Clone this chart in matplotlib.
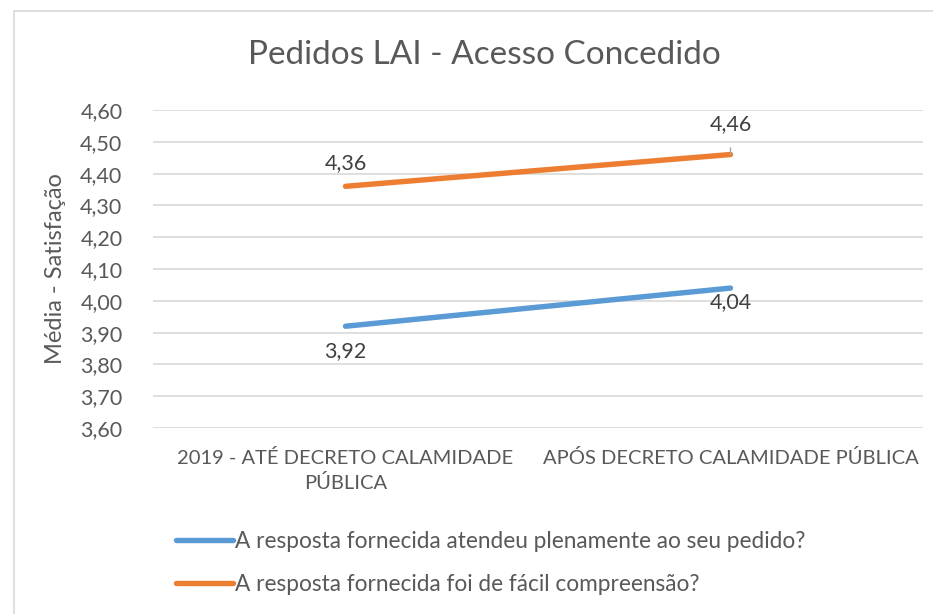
import numpy as np
import matplotlib.pyplot as plt
from matplotlib.patches import Rectangle
from matplotlib.ticker import FuncFormatter

plt.rcParams['font.family'] = ['Lato', 'DejaVu Sans']

categorias = ['2019 - ATÉ DECRETO CALAMIDADE\nPÚBLICA', 'APÓS DECRETO CALAMIDADE PÚBLICA']
atendeu = [3.92, 4.04]
compreensao = [4.36, 4.46]
serie_atendeu = 'A resposta fornecida atendeu plenamente ao seu pedido?'
serie_compreensao = 'A resposta fornecida foi de fácil compreensão?'
yticks = np.arange(3.60, 4.61, 0.10)

cinza = '#595959'
azul = '#5b9bd5'
laranja = '#ed7d31'

fig = plt.figure(figsize=(9.33, 6.14), dpi=100)
ax = fig.add_axes([153/933, 1-428/614, 770/933, 318/614])

x = np.arange(len(categorias))
l1, = ax.plot(x, atendeu, color=azul, lw=3.9, solid_capstyle='round', label=serie_atendeu)
l2, = ax.plot(x, compreensao, color=laranja, lw=3.9, solid_capstyle='round', label=serie_compreensao)

# rotulos de dados
fs = 15.5
ax.annotate('3,92', (x[0], atendeu[0]), xytext=(0, -18), textcoords='offset points',
            ha='center', va='center', fontsize=fs, color='#404040')
ax.annotate('4,04', (x[1], atendeu[1]), xytext=(0, -10), textcoords='offset points',
            ha='center', va='center', fontsize=fs, color='#404040')
ax.annotate('4,36', (x[0], compreensao[0]), xytext=(0, 17), textcoords='offset points',
            ha='center', va='center', fontsize=fs, color='#404040')
ax.annotate('4,46', (x[1], compreensao[1]), xytext=(0, 22), textcoords='offset points',
            ha='center', va='center', fontsize=fs, color='#404040',
            arrowprops=dict(arrowstyle='-', color='#a6a6a6', lw=1, shrinkA=8, shrinkB=0))

ax.set_xlim(-0.5, 1.5)
ax.set_ylim(3.60, 4.60)
ax.set_yticks(yticks)
ax.yaxis.set_major_formatter(FuncFormatter(lambda v, p: f'{v:.2f}'.replace('.', ',')))
ax.set_xticks(x)
ax.set_xticklabels(categorias, fontsize=14.5, color=cinza, linespacing=1.45)
ax.tick_params(axis='y', labelsize=15.5, labelcolor=cinza, length=0, pad=22)
ax.tick_params(axis='x', length=0, pad=15)
ax.grid(axis='y', color='#d9d9d9', lw=1.2)
ax.set_axisbelow(True)
for s in ax.spines.values():
    s.set_visible(False)

ax.set_ylabel('Média - Satisfação', fontsize=17, color=cinza, labelpad=10)
fig.text(484/933, 1-55/614, 'Pedidos LAI - Acesso Concedido', ha='center', va='center',
         fontsize=24, color=cinza)

fig.legend(handles=[l1, l2], loc='upper left', bbox_to_anchor=(167/933, 1-522/614),
           frameon=False, fontsize=16.3, labelcolor=cinza, handlelength=2.5,
           handletextpad=0.1, labelspacing=0.95, borderaxespad=0)

fig.patches.append(Rectangle((14/933, -0.05), 1.1, 1-11/614+0.05, transform=fig.transFigure,
                             fill=False, edgecolor='#d9d9d9', lw=1.2))

fig.savefig('out.png', dpi=100)
